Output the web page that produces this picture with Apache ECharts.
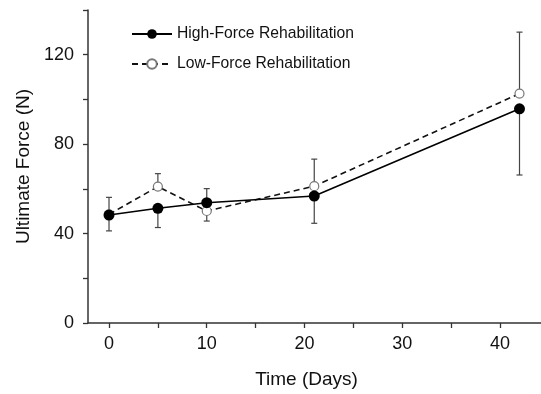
<!DOCTYPE html>
<html>
<head>
<meta charset="utf-8">
<script src="https://cdn.jsdelivr.net/npm/echarts@6/dist/echarts.min.js"></script>
<style>html,body{margin:0;padding:0;background:#fff}#c{width:541px;height:394px}</style>
</head>
<body>
<div id="c"></div>
<script>
const days = [0, 5, 10, 21, 42];
const highMean = [48.3, 51.3, 53.8, 56.8, 95.8];
const highSD = [7.1, 8.6, 6.3, 12.2, 29.6];
const lowMean = [48.6, 61.0, 50.1, 61.2, 102.6];
const lowSD = [7.6, 5.8, 4.5, 12.1, 27.5];
const xTickValues = [0, 5, 10, 15, 20, 25, 30, 35, 40];
const xLabelValues = [0, 10, 20, 30, 40];
const yTickValues = [0, 20, 40, 60, 80, 100, 120, 140];
const yLabelValues = [0, 40, 80, 120];

const FONT = 'Liberation Sans, Arial, Helvetica, sans-serif';
const AXC = '#333';

// one-sided error bars, drawn away from the other group's mean
function errData(mean, sd, other) {
  return days.map((d, i) => {
    const dir = mean[i] >= other[i] ? 1 : -1;
    return [d, mean[i], mean[i] + dir * sd[i]];
  });
}
function errRender(params, api) {
  const x = api.value(0);
  const a = api.coord([x, api.value(1)]);
  const b = api.coord([x, api.value(2)]);
  const w = 3;
  const st = { stroke: '#444', lineWidth: 1.2 };
  return {
    type: 'group',
    children: [
      { type: 'line', shape: { x1: a[0], y1: a[1], x2: b[0], y2: b[1] }, style: st },
      { type: 'line', shape: { x1: b[0] - w, y1: b[1], x2: b[0] + w, y2: b[1] }, style: st }
    ]
  };
}

const chart = echarts.init(document.getElementById('c'), null, { renderer: 'canvas' });
chart.setOption({
  animation: false,
  backgroundColor: '#fff',
  textStyle: { fontFamily: FONT },
  grid: { left: 88, right: 0, top: 10, bottom: 70, containLabel: false },
  legend: {
    orient: 'vertical',
    left: 131,
    top: 26,
    padding: 0,
    itemWidth: 40,
    itemHeight: 12,
    itemGap: 14,
    textStyle: { fontSize: 15.7, color: '#111', fontFamily: FONT },
    data: ['High-Force Rehabilitation', 'Low-Force Rehabilitation']
  },
  xAxis: {
    type: 'value',
    min: -2.15,
    max: 44.2,
    name: 'Time (Days)',
    nameLocation: 'middle',
    nameGap: 47,
    nameTextStyle: { fontSize: 19, color: '#111', fontFamily: FONT, padding: [0, 16, 0, 0] },
    axisLine: { show: true, onZero: false, lineStyle: { color: AXC, width: 1.5 } },
    axisTick: { show: true, length: 5, customValues: xTickValues, lineStyle: { color: AXC, width: 1.3 } },
    axisLabel: { customValues: xLabelValues, fontSize: 18, color: '#111', margin: 12, fontFamily: FONT },
    splitLine: { show: false }
  },
  yAxis: {
    type: 'value',
    min: 0,
    max: 140,
    name: 'Ultimate Force (N)',
    nameLocation: 'middle',
    nameGap: 46,
    nameTextStyle: { fontSize: 19, color: '#111', fontFamily: FONT },
    axisLine: { show: true, onZero: false, lineStyle: { color: AXC, width: 1.5 } },
    axisTick: { show: true, length: 5, customValues: yTickValues, lineStyle: { color: AXC, width: 1.3 } },
    axisLabel: { customValues: yLabelValues, fontSize: 18, color: '#111', margin: 14, fontFamily: FONT },
    splitLine: { show: false }
  },
  series: [
    {
      type: 'custom',
      name: 'errHigh',
      renderItem: errRender,
      data: errData(highMean, highSD, lowMean),
      z: 1,
      silent: true
    },
    {
      type: 'custom',
      name: 'errLow',
      renderItem: errRender,
      data: errData(lowMean, lowSD, highMean),
      z: 1,
      silent: true
    },
    {
      name: 'Low-Force Rehabilitation',
      type: 'line',
      data: days.map((d, i) => [d, lowMean[i]]),
      symbol: 'circle',
      symbolSize: 9,
      lineStyle: { color: '#111', width: 1.6, type: [6, 4] },
      itemStyle: { color: '#fff', borderColor: '#777', borderWidth: 1.2 },
      z: 3
    },
    {
      name: 'High-Force Rehabilitation',
      type: 'line',
      data: days.map((d, i) => [d, highMean[i]]),
      symbol: 'circle',
      symbolSize: 11,
      lineStyle: { color: '#000', width: 1.6 },
      itemStyle: { color: '#000' },
      z: 4
    }
  ]
});
</script>
</body>
</html>
